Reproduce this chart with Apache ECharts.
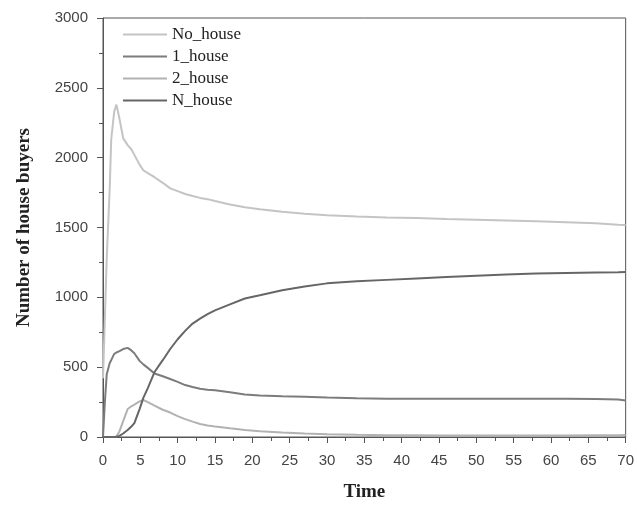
<!DOCTYPE html>
<html><head><meta charset="utf-8">
<script src="https://cdn.jsdelivr.net/npm/echarts@6/dist/echarts.min.js"></script>
<style>html,body{margin:0;padding:0;background:#fff}#c{width:637px;height:507px}</style>
</head><body><div id="c"></div>
<script>
const seriesNames = ['No_house', '1_house', '2_house', 'N_house'];
const time = [0,0.25,0.5,0.9,1.1,1.5,1.8,2.2,2.7,3.3,3.8,4.2,4.9,5.4,6,6.9,8,9,10,11,12,13,14,15,17,19,21,24,27,30,34,38,42,46,50,54,58,62,66,69,70];
const noHouse = [420,850,1280,1780,2130,2330,2380,2280,2140,2090,2060,2020,1950,1910,1890,1860,1820,1780,1760,1740,1725,1712,1703,1690,1665,1645,1630,1612,1598,1588,1578,1572,1568,1560,1555,1550,1545,1538,1530,1520,1518];
const oneHouse = [0,250,450,530,550,595,605,615,630,638,620,600,545,520,495,455,435,415,395,372,358,345,338,335,320,305,297,292,288,283,278,274,273,273,273,273,273,273,272,268,262];
const twoHouse = [0,0,0,0,0,0,3,40,114,200,220,232,255,265,250,225,195,175,150,128,110,93,82,75,62,50,42,33,25,20,16,13,12,11,11,10,10,10,12,13,14];
const nHouse = [0,0,0,0,0,0,2,8,25,50,75,100,200,280,350,465,550,630,700,760,812,848,880,907,950,992,1015,1050,1078,1100,1115,1125,1135,1145,1155,1163,1170,1175,1178,1180,1181];
const xTicks = {min:0, max:70, interval:5};
const yTicks = {min:0, max:3000, interval:500};

const allValues = [noHouse, oneHouse, twoHouse, nHouse];
const colors = ['#c4c4c4', '#7c7c7c', '#b2b2b2', '#666666'];

const chart = echarts.init(document.getElementById('c'));
chart.setOption({
  animation: false,
  backgroundColor: '#fff',
  grid: {left: 103, right: 10, top: 18, bottom: 67, show: true, borderColor: '#555', borderWidth: 1},
  legend: {
    orient: 'vertical', left: 117, top: 21,
    itemWidth: 44, itemHeight: 16, itemGap: 5,
    itemStyle: {opacity: 0},
    textStyle: {fontFamily: 'Liberation Serif', fontSize: 17, color: '#222'},
    data: seriesNames
  },
  xAxis: {
    type: 'value', min: xTicks.min, max: xTicks.max, interval: xTicks.interval,
    name: 'Time', nameLocation: 'middle', nameGap: 46,
    nameTextStyle: {fontFamily: 'Liberation Serif', fontWeight: 'bold', fontSize: 19, color: '#222'},
    axisLine: {show: true, lineStyle: {color: '#555'}},
    axisTick: {show: true, inside: false, length: 6, lineStyle: {color: '#555'}},
    minorTick: {show: true, splitNumber: 2, length: 4, lineStyle: {color: '#555'}},
    axisLabel: {fontFamily: 'Liberation Sans', fontSize: 15, color: '#444', margin: 16},
    splitLine: {show: false}
  },
  yAxis: {
    type: 'value', min: yTicks.min, max: yTicks.max, interval: yTicks.interval,
    name: 'Number of house buyers', nameLocation: 'middle', nameGap: 69,
    nameTextStyle: {fontFamily: 'Liberation Serif', fontWeight: 'bold', fontSize: 19, color: '#222'},
    axisLine: {show: true, lineStyle: {color: '#555'}},
    axisTick: {show: true, inside: false, length: 6, lineStyle: {color: '#555'}},
    minorTick: {show: true, splitNumber: 2, length: 4, lineStyle: {color: '#555'}},
    axisLabel: {fontFamily: 'Liberation Sans', fontSize: 15, color: '#444', margin: 15, formatter: v => String(v)},
    splitLine: {show: false}
  },
  series: seriesNames.map((n, i) => ({
    name: n, type: 'line', symbol: 'none', smooth: false,
    data: time.map((t, j) => [t, allValues[i][j]]),
    lineStyle: {color: colors[i], width: 2},
    itemStyle: {color: colors[i]}
  }))
});
</script></body></html>
